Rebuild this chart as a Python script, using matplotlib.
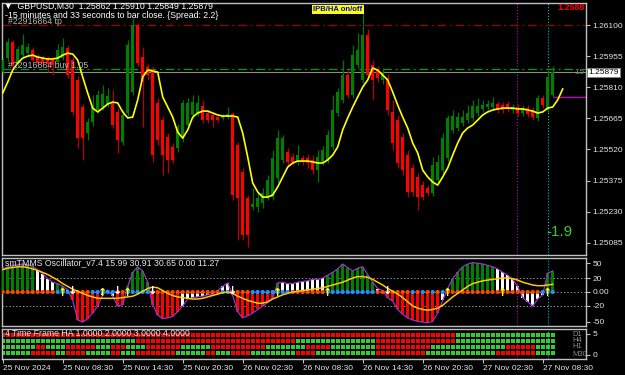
import numpy as np
import matplotlib
matplotlib.use('Agg')
import matplotlib.pyplot as plt
from matplotlib.transforms import blended_transform_factory

plt.rcParams['font.family'] = ['Liberation Sans', 'DejaVu Sans']

# GBPUSD M30 bars
opens = [1.25881, 1.25946, 1.26021, 1.25923, 1.25960, 1.25969, 1.25983, 1.25951, 1.25946, 1.25942,
         1.25937, 1.25928, 1.25946, 1.25993, 1.25937, 1.25844, 1.25718, 1.25597, 1.25648, 1.25704,
         1.25718, 1.25732, 1.25741, 1.25695, 1.25555, 1.25690, 1.25788, 1.26100, 1.25951, 1.25904,
         1.25890, 1.25737, 1.25657, 1.25578, 1.25532, 1.25527, 1.25573, 1.25634, 1.25681, 1.25690,
         1.25723, 1.25690, 1.25681, 1.25671, 1.25667, 1.25671, 1.25685, 1.25541, 1.25415, 1.25294,
         1.25252, 1.25252, 1.25270, 1.25294, 1.25298, 1.25387, 1.25471, 1.25508, 1.25485, 1.25462,
         1.25480, 1.25480, 1.25471, 1.25424, 1.25462, 1.25471, 1.25532, 1.25690, 1.25751, 1.25867,
         1.25774, 1.25914, 1.25844, 1.26053, 1.25914, 1.25890, 1.25844, 1.25853, 1.25695, 1.25657,
         1.25578, 1.25494, 1.25434, 1.25392, 1.25354, 1.25340, 1.25317, 1.25378, 1.25424, 1.25480,
         1.25611, 1.25620, 1.25643, 1.25657, 1.25667, 1.25690, 1.25709, 1.25718, 1.25718, 1.25732,
         1.25727, 1.25732, 1.25704, 1.25718, 1.25690, 1.25713, 1.25704, 1.25667, 1.25760, 1.25704,
         1.25774]
highs = [1.25946, 1.26039, 1.26030, 1.26002, 1.26058, 1.26016, 1.25997, 1.25965, 1.25960, 1.25955,
         1.25951, 1.26011, 1.26039, 1.26007, 1.25951, 1.25862, 1.25732, 1.25667, 1.25774, 1.25797,
         1.25820, 1.25806, 1.25797, 1.25713, 1.25704, 1.26030, 1.26133, 1.26109, 1.25997, 1.25918,
         1.25909, 1.25760, 1.25676, 1.25597, 1.25550, 1.25639, 1.25751, 1.25760, 1.25774, 1.25774,
         1.25751, 1.25704, 1.25695, 1.25681, 1.25685, 1.25718, 1.25695, 1.25555, 1.25434, 1.25308,
         1.25340, 1.25322, 1.25340, 1.25401, 1.25518, 1.25611, 1.25587, 1.25527, 1.25504, 1.25541,
         1.25494, 1.25499, 1.25494, 1.25518, 1.25536, 1.25611, 1.25774, 1.25806, 1.25937, 1.25890,
         1.26007, 1.26063, 1.26156, 1.26081, 1.25937, 1.25909, 1.25900, 1.25872, 1.25751, 1.25681,
         1.25597, 1.25518, 1.25452, 1.25410, 1.25373, 1.25354, 1.25485, 1.25494, 1.25597, 1.25681,
         1.25704, 1.25695, 1.25704, 1.25727, 1.25751, 1.25760, 1.25751, 1.25751, 1.25765, 1.25746,
         1.25741, 1.25746, 1.25732, 1.25732, 1.25727, 1.25727, 1.25718, 1.25774, 1.25774, 1.25895,
         1.25910]
lows = [1.25867, 1.25928, 1.25900, 1.25909, 1.25946, 1.25955, 1.25923, 1.25909, 1.25909, 1.25881,
        1.25867, 1.25918, 1.25937, 1.25853, 1.25681, 1.25527, 1.25471, 1.25564, 1.25629, 1.25690,
        1.25704, 1.25718, 1.25620, 1.25504, 1.25541, 1.25676, 1.25774, 1.25909, 1.25625, 1.25844,
        1.25462, 1.25541, 1.25401, 1.25410, 1.25457, 1.25508, 1.25555, 1.25620, 1.25667, 1.25676,
        1.25643, 1.25643, 1.25625, 1.25648, 1.25657, 1.25662, 1.25284, 1.25098, 1.25098, 1.25066,
        1.25238, 1.25229, 1.25247, 1.25284, 1.25284, 1.25368, 1.25457, 1.25443, 1.25448, 1.25448,
        1.25448, 1.25434, 1.25406, 1.25368, 1.25448, 1.25457, 1.25518, 1.25676, 1.25737, 1.25760,
        1.25760, 1.25900, 1.25830, 1.25853, 1.25751, 1.25834, 1.25825, 1.25681, 1.25518, 1.25434,
        1.25401, 1.25298, 1.25303, 1.25238, 1.25284, 1.25303, 1.25303, 1.25364, 1.25410, 1.25466,
        1.25597, 1.25606, 1.25629, 1.25643, 1.25653, 1.25676, 1.25695, 1.25704, 1.25704, 1.25690,
        1.25690, 1.25695, 1.25690, 1.25676, 1.25676, 1.25671, 1.25657, 1.25653, 1.25713, 1.25695,
        1.25765]
closes = [1.25937, 1.26021, 1.25914, 1.25988, 1.26007, 1.25997, 1.25937, 1.25923, 1.25923, 1.25918,
          1.25914, 1.25983, 1.25997, 1.25867, 1.25695, 1.25573, 1.25573, 1.25648, 1.25718, 1.25774,
          1.25779, 1.25769, 1.25634, 1.25564, 1.25681, 1.26007, 1.26100, 1.25923, 1.25834, 1.25867,
          1.25494, 1.25564, 1.25494, 1.25471, 1.25471, 1.25625, 1.25737, 1.25737, 1.25741, 1.25737,
          1.25657, 1.25657, 1.25657, 1.25657, 1.25676, 1.25685, 1.25308, 1.25294, 1.25121, 1.25121,
          1.25266, 1.25294, 1.25317, 1.25378, 1.25480, 1.25573, 1.25573, 1.25462, 1.25462, 1.25494,
          1.25462, 1.25457, 1.25424, 1.25485, 1.25518, 1.25587, 1.25704, 1.25788, 1.25867, 1.25774,
          1.25960, 1.25983, 1.26053, 1.25867, 1.25844, 1.25853, 1.25881, 1.25704, 1.25550, 1.25457,
          1.25424, 1.25322, 1.25322, 1.25298, 1.25298, 1.25317, 1.25448, 1.25462, 1.25573, 1.25667,
          1.25676, 1.25671, 1.25671, 1.25690, 1.25723, 1.25723, 1.25727, 1.25732, 1.25737, 1.25704,
          1.25704, 1.25709, 1.25718, 1.25690, 1.25713, 1.25685, 1.25671, 1.25760, 1.25727, 1.25858,
          1.25879]

# yellow smoothed average (runs two bars past the last candle)
ma_line = [1.25783, 1.25834, 1.25890, 1.25923, 1.25946, 1.25955, 1.25960, 1.25951, 1.25946, 1.25942,
           1.25942, 1.25946, 1.25960, 1.25969, 1.25965, 1.25937, 1.25858, 1.25783, 1.25713, 1.25695,
           1.25713, 1.25732, 1.25741, 1.25737, 1.25695, 1.25667, 1.25671, 1.25751, 1.25858, 1.25890,
           1.25886, 1.25881, 1.25765, 1.25718, 1.25671, 1.25601, 1.25573, 1.25611, 1.25671, 1.25690,
           1.25699, 1.25699, 1.25690, 1.25681, 1.25676, 1.25676, 1.25676, 1.25671, 1.25597, 1.25485,
           1.25364, 1.25322, 1.25298, 1.25298, 1.25308, 1.25345, 1.25392, 1.25438, 1.25457, 1.25466,
           1.25466, 1.25466, 1.25462, 1.25457, 1.25457, 1.25471, 1.25494, 1.25532, 1.25611, 1.25667,
           1.25718, 1.25765, 1.25811, 1.25844, 1.25900, 1.25890, 1.25867, 1.25844, 1.25788, 1.25727,
           1.25671, 1.25620, 1.25550, 1.25504, 1.25424, 1.25392, 1.25368, 1.25354, 1.25392, 1.25434,
           1.25494, 1.25550, 1.25597, 1.25620, 1.25634, 1.25657, 1.25681, 1.25695, 1.25704, 1.25709,
           1.25713, 1.25713, 1.25713, 1.25709, 1.25709, 1.25704, 1.25699, 1.25690, 1.25695, 1.25713,
           1.25718, 1.25751, 1.25802]

price_ticks = [1.26100, 1.25955, 1.25810, 1.25665, 1.25520, 1.25375, 1.25230, 1.25085]
tp_price = 1.26100
buy_price = 1.25895
bid_price = 1.25879
target_price = 1.25765
vline_bars = [102.9, 109.0]

# smTMMS oscillator
osc_hist = [33, 36, 38, 39, 40, 39, 37, 31, 26, 19, 14, 12, 8, 3,
            -12, -40, -43, -38, -30, -20, -4, 3, -6, -20, -18,
            8, 28, 36, 30, 14, -18, -33, -38, -37, -35, -28,
            -20, -10, -8, -7, -6, -4, -3, 2, 8, 13,
            -5, -28, -37, -34, -30, -25, -20, -15, -8, 13,
            14, 12, 12, 14, 15, 16, 18, 18, 20,
            24, 28, 33, 40, 35, 30, 34, 36, 25, 14, 5, 2,
            -8, -13, -25, -32, -37, -40, -42, -43, -44, -42, -30, -12, 5,
            19, 28, 36, 40, 42, 41, 40, 38, 36,
            33, 28, 24, 18, 8, -8, -14, -20, -10, -4, 27, 30]
osc_color = ("gggggggwwwwggw" "rrrrrrwwwrr" "gggggrrrrrr" "wwwwwwwwww" "rrrrrrrrrg"
             "wwwwwwwww" "ggggggggggww" "rrrrrrrrrrrww" "ggggggggg" "wwwwwwwwwwgg")
osc_signal = [32, 34, 35, 36, 36, 35, 33, 31, 28, 25, 21, 17, 12, 8, 4, 1, -2, -5, -7, -9,
              -9, -9, -9, -9, -8, -7, -6, -3, 1, 5, 7, 6, 2, -2, -5, -7, -8, -9, -10, -10,
              -9, -7, -5, -3, -1, 0, -2, -6, -9, -12, -14, -16, -16, -14, -10, -7, -4, -2, 0, 1,
              2, 3, 4, 5, 6, 8, 10, 12, 14, 17, 20, 22, 22, 21, 18, 14, 10, 5, 1, -3,
              -8, -14, -20, -23, -25, -26, -25, -23, -19, -13, -7, -2, 3, 8, 12, 14, 16, 17, 18, 19,
              20, 20, 19, 17, 14, 12, 10, 9, 9, 10, 11]
dot_color = ("ooooooooooo" "bbb" "oooo" "bbbbb" "oo" "bbbbb" "oooooooooooooo" "bb" "oooo"
             "bbbbbbbb" "ooooooo" "bbbbbbbbbb" "ooooooo" "bobobob" "ooooooooooooooooooo" "bbb")
up_arrows = [12, 20, 25, 55, 65, 89, 100, 109]
down_arrows = [14, 23, 30, 46, 77]

# 4 time frame heiken ashi rows
ha_rows = {
    'D1': "r" * 91 + "g" * 20,
    'H4': "g" * 27 + "r" * 32 + "g" * 16 + "r" * 16 + "g" * 20,
    'H1': ("g" * 7 + "r" * 2 + "g" * 4 + "r" * 6 + "g" * 3 + "r" * 3 + "g" * 4 + "r" * 7 + "g" * 6
           + "r" * 11 + "g" * 8 + "r" * 5 + "g" * 9 + "r" * 11 + "g" * 15 + "r" * 6 + "g" * 4),
    'M30': ("g" * 6 + "r" * 5 + "g" * 2 + "r" * 4 + "g" * 5 + "r" * 2 + "g" * 3 + "r" * 8 + "g" * 6
            + "r" * 2 + "g" * 3 + "r" * 4 + "g" * 9 + "r" * 4 + "g" * 12 + "r" * 10 + "g" * 14
            + "r" * 8 + "g" * 4),
}

time_bars = [0, 12, 24, 36, 48, 60, 72, 84, 96, 108]
time_labels = ['25 Nov 2024', '25 Nov 08:30', '25 Nov 14:30', '25 Nov 20:30', '26 Nov 02:30',
               '26 Nov 08:30', '26 Nov 14:30', '26 Nov 20:30', '27 Nov 02:30', '27 Nov 08:30']

W, H = 625, 375
fig = plt.figure(figsize=(W / 100, H / 100), dpi=100, facecolor='black')
ax = fig.add_axes([2 / W, 1 - 255 / H, 584 / W, 252 / H])
ax_osc = fig.add_axes([2 / W, 1 - 326 / H, 584 / W, 68 / H])
ax_ha = fig.add_axes([2 / W, 1 - 359 / H, 584 / W, 30 / H])

for a in (ax, ax_osc, ax_ha):
    a.set_facecolor('black')
    for s in a.spines.values():
        s.set_color('#c0c0c0')
        s.set_linewidth(1)
    a.set_xlim(-0.14, 116.66)
    a.yaxis.tick_right()
    a.tick_params(axis='y', colors='#c0c0c0', labelcolor='#e6e6e6', labelsize=6, length=3, pad=1.5, width=0.8)
    a.tick_params(axis='x', bottom=False, labelbottom=False)
    for v, col in zip(vline_bars, ['#c000c0', '#00c0c0']):
        a.axvline(v, color=col, ls=':', lw=0.8, zorder=1)

# ---- main chart ----
k = np.arange(len(opens))
o = np.array(opens)
c = np.array(closes)
bull = c >= o
ax.vlines(k, lows, highs, colors=np.where(bull, '#007400', '#b80000'), lw=0.9, zorder=3)
ax.bar(k, np.maximum(np.abs(c - o), 0.00003), bottom=np.minimum(o, c), width=0.62,
       color=np.where(bull, '#008000', '#ff0000'), lw=0, zorder=4)
ax.plot(np.arange(len(ma_line)), ma_line, color='#ffff00', lw=1.2, zorder=5)

dashdot = (0, (7, 3, 1.5, 3))
ax.axhline(tp_price, color='#a00000', ls=dashdot, lw=0.9, zorder=2)
ax.axhline(buy_price, color='#00a000', ls=dashdot, lw=0.9, zorder=2)
ax.axhline(bid_price, color='#8c8c8c', lw=0.8, zorder=2)
ax.hlines(target_price, len(opens) - 1, 116.66, color='#c000c0', lw=1, zorder=2)

ax.set_ylim(1.25028, 1.26203)
ax.set_yticks(price_ticks)
ax.set_yticklabels(['%.5f' % p for p in price_ticks])
tr = blended_transform_factory(ax.transAxes, ax.transData)
ax.text(1.004, bid_price, '%.5f' % bid_price, transform=tr, ha='left', va='center', fontsize=6,
        color='black', bbox=dict(fc='white', ec='#808080', lw=0.6, pad=0.8), zorder=10, clip_on=False)

# ---- oscillator ----
cmap = {'g': '#008000', 'w': '#ffffff', 'r': '#ff0000'}
xo = np.arange(len(osc_hist))
ax_osc.bar(xo, osc_hist, width=0.6, color=[cmap[ch] for ch in osc_color], lw=0, zorder=3)
ax_osc.plot(xo, osc_hist, color='#9932cc', lw=0.9, zorder=4)
for lvl in (20, 0, -20):
    ax_osc.axhline(lvl, color='#909090', ls=(0, (1.5, 2)), lw=0.7, zorder=2)
ax_osc.plot(np.arange(len(osc_signal)), osc_signal, color='#ffc800', lw=1.1, zorder=6)
dmap = {'o': '#ff4500', 'b': '#1e90ff'}
ax_osc.scatter(np.arange(len(dot_color)), np.zeros(len(dot_color)), s=9,
               c=[dmap[ch] for ch in dot_color], lw=0, zorder=5)
for b in up_arrows:
    ax_osc.text(b, -2, '↑', color='#ffff00', fontsize=8, fontweight='bold', ha='center', va='center',
                family='DejaVu Sans', zorder=7)
for b in down_arrows:
    ax_osc.text(b, 2, '↓', color='#ffffff', fontsize=8, fontweight='bold', ha='center', va='center',
                family='DejaVu Sans', zorder=7)
ax_osc.set_ylim(-48.6, 48.6)
ax_osc.set_yticks([41.4, 20, 0, -20, -42.2])
ax_osc.set_yticklabels(['50', '20', '0.00', '-20', '-50'])

# ---- 4TF HA ----
hmap = {'g': '#32cd32', 'r': '#ff0000'}
for row, (name, seq) in zip([4, 3, 2, 1], ha_rows.items()):
    ax_ha.bar(np.arange(len(seq)), 0.72, bottom=row - 0.36, width=0.78,
              color=[hmap[ch] for ch in seq], lw=0)
ax_ha.set_ylim(0, 5)
ax_ha.set_yticks([4.2, 0.7])
ax_ha.set_yticklabels(['5', '0'])
ax_ha.set_xticks(time_bars)
ax_ha.set_xticklabels(time_labels, ha='left')
ax_ha.tick_params(axis='x', bottom=True, labelbottom=True, colors='#c0c0c0', labelcolor='#e6e6e6',
                  labelsize=6, length=3, pad=1.5, width=0.8)


def ptext(x, y, s, **kw):
    fig.text(x / W, 1 - y / H, s, va='center', **kw)


ptext(4, 6, '▼  GBPUSD,M30  1.25862 1.25910 1.25849 1.25879', color='#ffffff', fontsize=6.3)
ptext(5, 15, '-15 minutes and 33 seconds to bar close. {Spread: 2.2}', color='#ffffff', fontsize=6.3)
ptext(8, 21, '#22916864 tp', color='#b4b4b4', fontsize=6.3)
ptext(8, 65, '#22916864 buy 1.05', color='#b4b4b4', fontsize=6.3)
ptext(338, 9.5, 'IPB/HA on/off', color='#0000c8', fontsize=5.5, fontweight='bold', ha='center',
      bbox=dict(fc='#ffff00', ec='none', pad=0.8))
ptext(585, 7, '1.2588', color='#ff0000', fontsize=6.5, fontweight='bold', ha='right')
ptext(573, 73, '-15', color='#808080', fontsize=6)
ptext(546, 232, '-1.9', color='#33cc33', fontsize=11)
ptext(5, 263, 'smTMMS Oscillator_v7.4 15.99 30.91 30.65 0.00 11.27', color='#e6e6e6', fontsize=6.3)
ptext(5, 334, '4 Time Frame HA 1.0000 2.0000 3.0000 4.0000', color='#e6e6e6', fontsize=6.3)
for lab, yy in [('D1', 335), ('H4', 340), ('H1', 346), ('M30', 355)]:
    ptext(572, yy, lab, color='#8c8c8c', fontsize=5.5)

fig.savefig('out.png', dpi=100, facecolor='black')
